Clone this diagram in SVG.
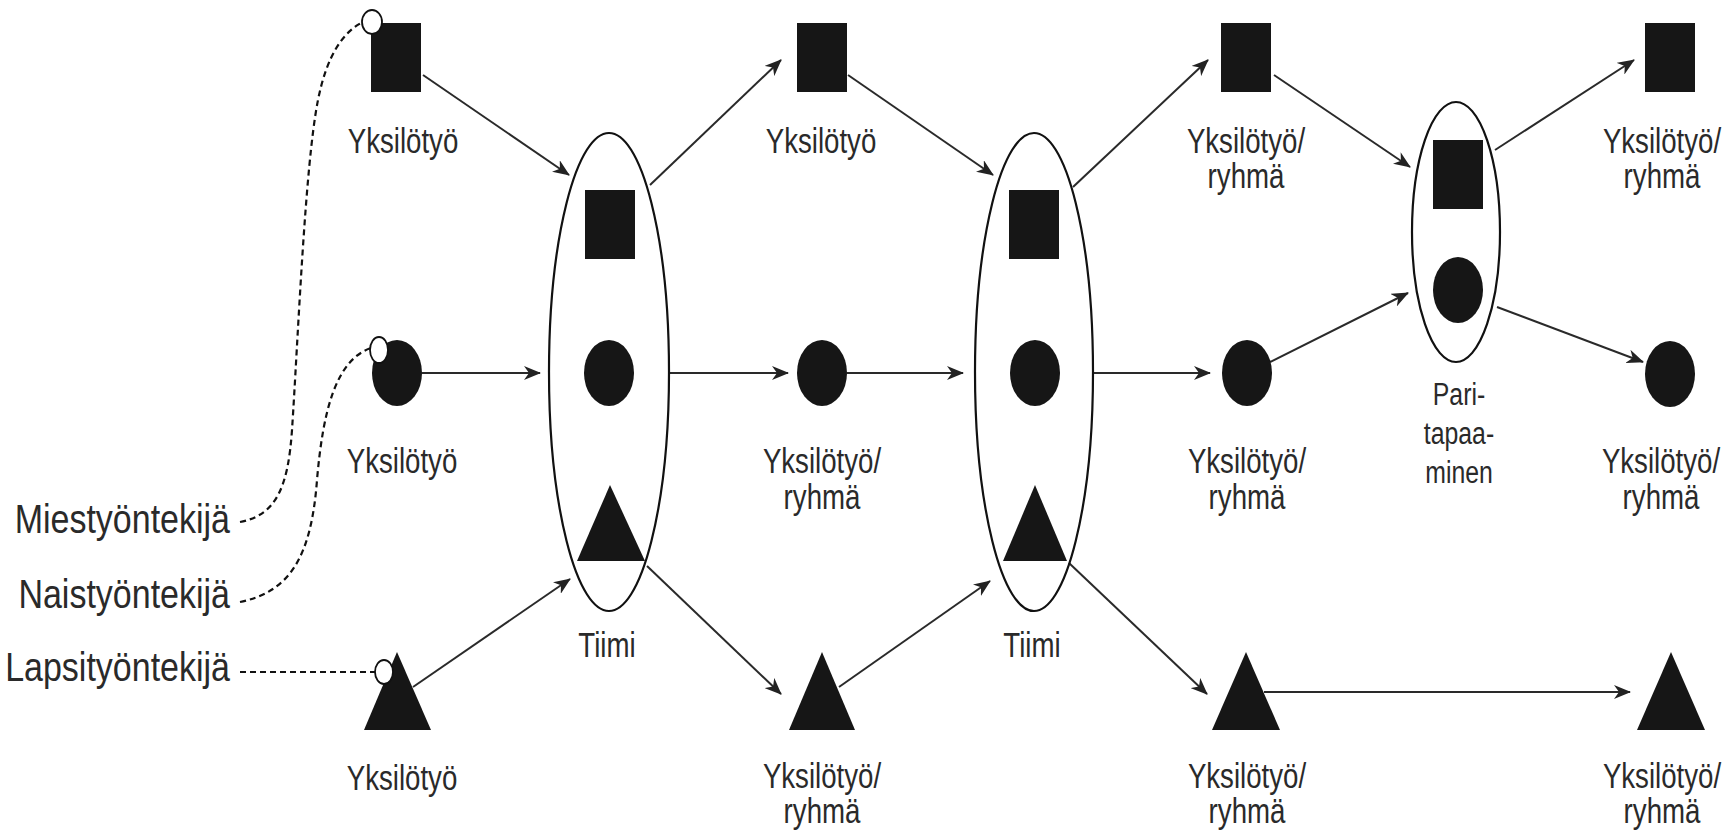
<svg xmlns="http://www.w3.org/2000/svg" width="1733" height="838" viewBox="0 0 1733 838">
<defs>
<style>
.shape{fill:#161616;}
.ring{fill:none;stroke:#111;stroke-width:2.2;}
.dot{fill:#fff;stroke:#111;stroke-width:1.8;}
.conn{fill:none;stroke:#2a2a2a;stroke-width:2;marker-end:url(#ah);}
.dash{fill:none;stroke:#111;stroke-width:2.2;stroke-dasharray:6 4;}
text{font-family:"Liberation Sans",Arial,sans-serif;fill:#2a2a2a;text-anchor:middle;}
.lbl{font-size:35px;}
.small{font-size:31px;}
.leg{font-size:40px;text-anchor:end;}
</style>
<marker id="ah" viewBox="0 0 17 14" refX="16" refY="7" markerWidth="17" markerHeight="14" markerUnits="userSpaceOnUse" orient="auto">
<path d="M0,0 L17,7 L0,14 L5,7 Z" fill="#222"/>
</marker>
</defs>
<rect width="1733" height="838" fill="#fff"/>

<g id="connectors">
<line class="conn" x1="423" y1="75" x2="569" y2="175"/>
<line class="conn" x1="422" y1="373" x2="540" y2="373"/>
<line class="conn" x1="413" y1="687" x2="570" y2="579"/>
<line class="conn" x1="650" y1="185" x2="781" y2="60"/>
<line class="conn" x1="670" y1="373" x2="788" y2="373"/>
<line class="conn" x1="647" y1="566" x2="781" y2="694"/>
<line class="conn" x1="848" y1="75" x2="993" y2="175"/>
<line class="conn" x1="847" y1="373" x2="963" y2="373"/>
<line class="conn" x1="839" y1="687" x2="990" y2="581"/>
<line class="conn" x1="1073" y1="187" x2="1208" y2="60"/>
<line class="conn" x1="1094" y1="373" x2="1210" y2="373"/>
<line class="conn" x1="1069" y1="563" x2="1207" y2="694"/>
<line class="conn" x1="1274" y1="75" x2="1410" y2="167"/>
<line class="conn" x1="1270" y1="362" x2="1408" y2="293"/>
<line class="conn" x1="1264" y1="692" x2="1630" y2="692"/>
<line class="conn" x1="1495" y1="150" x2="1634" y2="60"/>
<line class="conn" x1="1497" y1="307" x2="1643" y2="362"/>
<path class="dash" d="M240 522 C276 515 288 488 292 430 C298 340 305 165 318 100 C327 55 343 32 363 22"/>
<path class="dash" d="M240 602 C288 592 311 560 317 480 C323 410 336 360 371 348"/>
<path class="dash" d="M240 672 L375 672"/>
</g>

<g id="legend">
<text class="leg" transform="translate(230,533) scale(0.85,1)">Miestyöntekijä</text>
<text class="leg" transform="translate(230,608) scale(0.85,1)">Naistyöntekijä</text>
<text class="leg" transform="translate(230,681) scale(0.85,1)">Lapsityöntekijä</text>
</g>

<g id="c1-square">
<rect class="shape" x="371" y="23" width="50" height="69"/>
<ellipse class="dot" cx="372" cy="22" rx="10" ry="12"/>
<text class="lbl" transform="translate(403,153) scale(0.79,1)">Yksilötyö</text>
</g>
<g id="c1-circle">
<ellipse class="shape" cx="397" cy="373" rx="25" ry="33"/>
<ellipse class="dot" cx="379" cy="350" rx="9" ry="13"/>
<text class="lbl" transform="translate(402,473) scale(0.79,1)">Yksilötyö</text>
</g>
<g id="c1-triangle">
<polygon class="shape" points="397,652 431,730 364,730"/>
<ellipse class="dot" cx="384" cy="672" rx="9" ry="12"/>
<text class="lbl" transform="translate(402,790) scale(0.79,1)">Yksilötyö</text>
</g>

<g id="tiimi1">
<ellipse class="ring" cx="609" cy="372" rx="60" ry="239"/>
<rect class="shape" x="585" y="190" width="50" height="69"/>
<ellipse class="shape" cx="609" cy="373" rx="25" ry="33"/>
<polygon class="shape" points="610,485 645,561 577,561"/>
<text class="lbl" transform="translate(607,657) scale(0.79,1)">Tiimi</text>
</g>

<g id="c3-square">
<rect class="shape" x="797" y="23" width="50" height="69"/>
<text class="lbl" transform="translate(821,153) scale(0.79,1)">Yksilötyö</text>
</g>
<g id="c3-circle">
<ellipse class="shape" cx="822" cy="373" rx="25" ry="33"/>
<text class="lbl" transform="translate(822,473) scale(0.79,1)">Yksilötyö/<tspan x="0" dy="36">ryhmä</tspan></text>
</g>
<g id="c3-triangle">
<polygon class="shape" points="822,652 855,730 789,730"/>
<text class="lbl" transform="translate(822,788) scale(0.79,1)">Yksilötyö/<tspan x="0" dy="35">ryhmä</tspan></text>
</g>

<g id="tiimi2">
<ellipse class="ring" cx="1034" cy="372" rx="59" ry="239"/>
<rect class="shape" x="1009" y="190" width="50" height="69"/>
<ellipse class="shape" cx="1035" cy="373" rx="25" ry="33"/>
<polygon class="shape" points="1035,485 1067,561 1003,561"/>
<text class="lbl" transform="translate(1032,657) scale(0.79,1)">Tiimi</text>
</g>

<g id="c5-square">
<rect class="shape" x="1221" y="23" width="50" height="69"/>
<text class="lbl" transform="translate(1246,153) scale(0.79,1)">Yksilötyö/<tspan x="0" dy="35">ryhmä</tspan></text>
</g>
<g id="c5-circle">
<ellipse class="shape" cx="1247" cy="373" rx="25" ry="33"/>
<text class="lbl" transform="translate(1247,473) scale(0.79,1)">Yksilötyö/<tspan x="0" dy="36">ryhmä</tspan></text>
</g>
<g id="c5-triangle">
<polygon class="shape" points="1246,652 1280,730 1212,730"/>
<text class="lbl" transform="translate(1247,788) scale(0.79,1)">Yksilötyö/<tspan x="0" dy="35">ryhmä</tspan></text>
</g>

<g id="pair">
<ellipse class="ring" cx="1456" cy="232" rx="44" ry="130"/>
<rect class="shape" x="1433" y="140" width="50" height="69"/>
<ellipse class="shape" cx="1458" cy="290" rx="25" ry="33"/>
<text class="small" transform="translate(1459,405) scale(0.8,1)">Pari-<tspan x="0" dy="39">tapaa-</tspan><tspan x="0" dy="39">minen</tspan></text>
</g>

<g id="c7-square">
<rect class="shape" x="1645" y="23" width="50" height="69"/>
<text class="lbl" transform="translate(1662,153) scale(0.79,1)">Yksilötyö/<tspan x="0" dy="35">ryhmä</tspan></text>
</g>
<g id="c7-circle">
<ellipse class="shape" cx="1670" cy="374" rx="25" ry="33"/>
<text class="lbl" transform="translate(1661,473) scale(0.79,1)">Yksilötyö/<tspan x="0" dy="36">ryhmä</tspan></text>
</g>
<g id="c7-triangle">
<polygon class="shape" points="1671,652 1705,730 1637,730"/>
<text class="lbl" transform="translate(1662,788) scale(0.79,1)">Yksilötyö/<tspan x="0" dy="35">ryhmä</tspan></text>
</g>
</svg>
